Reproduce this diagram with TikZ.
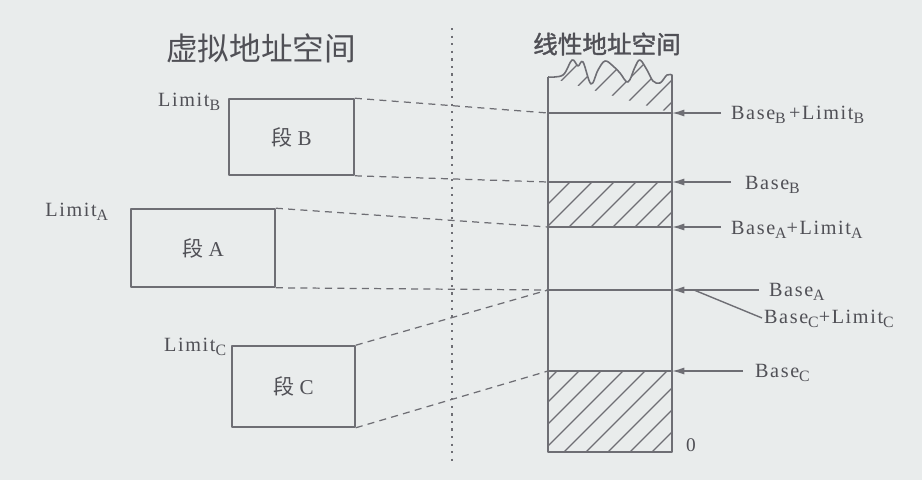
\documentclass[tikz,border=0pt]{standalone}
\usepackage{fontspec}
\setmainfont{Liberation Serif}
\newfontfamily\cjk{Noto Sans CJK SC}
\newfontfamily\lblfont[LetterSpace=8]{Liberation Serif}
\usetikzlibrary{arrows.meta, positioning}
\definecolor{bgcol}{RGB}{233,236,236}
\definecolor{inkcol}{RGB}{110,110,116}
\definecolor{txtcol}{RGB}{80,80,86}
\newcommand{\lsub}[1]{\raisebox{-0.45ex}{\fontsize{9}{10}\selectfont #1}}

\begin{document}
\begin{tikzpicture}[x=0.02cm, y=-0.02cm, line join=round,
    seg/.style={draw=inkcol, line width=0.9pt, inner sep=0pt, text=txtcol,
      font=\fontsize{12}{14}\selectfont},
    lim/.style={text=txtcol, inner sep=1pt, font=\lblfont\fontsize{11.5}{13}\selectfont},
    guide/.style={draw=inkcol, dashed, dash pattern=on 4pt off 3pt, line width=0.7pt},
    ptr/.style={draw=inkcol, line width=0.8pt, -{Latex[length=7pt,width=4pt]}}]

    % canvas
    \fill[bgcol] (0,0) rectangle (922,480);
    \useasboundingbox (0,0) rectangle (922,480);

    % titles
    \node[text=txtcol, font=\cjk\fontsize{18}{20}\selectfont] (vtitle) at (261,48) {虚拟地址空间};
    \node[text=txtcol, font=\cjk\fontsize{14}{16}\selectfont] (ltitle) at (607,44) {\addfontfeature{FakeBold=1.5}线性地址空间};

    % divider
    \draw[inkcol, line width=1.2pt, dash pattern=on 1.3pt off 3pt] (452,28) -- (452,466);

    % segments in virtual space
    \node[seg, minimum width=2.5cm, minimum height=1.52cm] (segB) at (291.5,137) {{\cjk 段} B};
    \node[seg, minimum width=2.88cm, minimum height=1.56cm] (segA) at (203,248) {{\cjk 段} A};
    \node[seg, minimum width=2.46cm, minimum height=1.62cm] (segC) at (293.5,386.5) {{\cjk 段} C};

    \node[lim, anchor=east] (limB) at ([shift={(-6,4)}]segB.north west) {Limit\lsub{B}};
    \node[lim, anchor=east] (limA) at ([shift={(-20,4)}]segA.north west) {Limit\lsub{A}};
    \node[lim, anchor=east] (limC) at ([shift={(-3,2)}]segC.north west) {Limit\lsub{C}};

    % linear space column
    \coordinate (L1) at (548,113); \coordinate (R1) at (672,113);
    \coordinate (L2) at (548,182); \coordinate (R2) at (672,182);
    \coordinate (L3) at (548,227); \coordinate (R3) at (672,227);
    \coordinate (L4) at (548,290); \coordinate (R4) at (672,290);
    \coordinate (L5) at (548,371); \coordinate (R5) at (672,371);
    \coordinate (L6) at (548,452); \coordinate (R6) at (672,452);

    % hatched regions
    \begin{scope}
      \clip (548,113) -- (548,77) plot[smooth, tension=0.6] coordinates {(548,77) (563,75) (572,60) (578,66) (583,62)
        (591,84) (598,70) (605,61) (613,66) (620,73) (628,82) (635,67) (640,60) (647,70) (653,81) (660,83)
        (667,75) (672,75)} -- (672,113) -- cycle
        (L2) rectangle (R3) (L5) rectangle (R6);
      \foreach \k in {-400,-378,...,700}
        \draw[inkcol, line width=0.7pt] (\k,470) -- ++(420,-420);
    \end{scope}

    \draw[inkcol, line width=0.9pt] (L1) -- (548,77) plot[smooth, tension=0.6] coordinates {(548,77) (563,75) (572,60) (578,66) (583,62)
        (591,84) (598,70) (605,61) (613,66) (620,73) (628,82) (635,67) (640,60) (647,70) (653,81) (660,83)
        (667,75) (672,75)} -- (R1);
    \draw[inkcol, line width=0.9pt] (L1) -- (L6) -- (R6) -- (R1);
    \foreach \i in {1,...,5}
      \draw[inkcol, line width=0.9pt] (L\i) -- (R\i);

    % mapping guides
    \draw[guide] (segB.north east) -- (L1);
    \draw[guide] (segB.south east) -- (L2);
    \draw[guide] (segA.north east) -- (L3);
    \draw[guide] (segA.south east) -- (L4);
    \draw[guide] (segC.north east) -- (L4);
    \draw[guide] (segC.south east) -- (L5);

    % address labels
    \node[lim, anchor=west] (bbl) at (729,115) {Base\lsub{B}\,+Limit\lsub{B}};
    \node[lim, anchor=west] (bb) at (743,185) {Base\lsub{B}};
    \node[lim, anchor=west] (bal) at (729,230) {Base\lsub{A}+Limit\lsub{A}};
    \node[lim, anchor=west] (ba) at (767,292) {Base\lsub{A}};
    \node[lim, anchor=west] (bcl) at (762,319) {Base\lsub{C}+Limit\lsub{C}};
    \node[lim, anchor=west] (bc) at (753,373) {Base\lsub{C}};
    \node[text=txtcol, font=\fontsize{11}{12}\selectfont] (zero) at (691,445) {0};

    \draw[ptr] (bbl.west) ++(-8,-2) -- (R1);
    \draw[ptr] (bb.west) ++(-12,-3) -- (R2);
    \draw[ptr] (bal.west) ++(-8,-3) -- (R3);
    \draw[ptr] (ba.west) ++(-8,-2) -- (R4);
    \draw[inkcol, line width=0.8pt] (bcl.west) ++(0,-1) -- (694,290);
    \draw[ptr] (bc.west) ++(-10,-2) -- (R5);

\end{tikzpicture}
\end{document}
